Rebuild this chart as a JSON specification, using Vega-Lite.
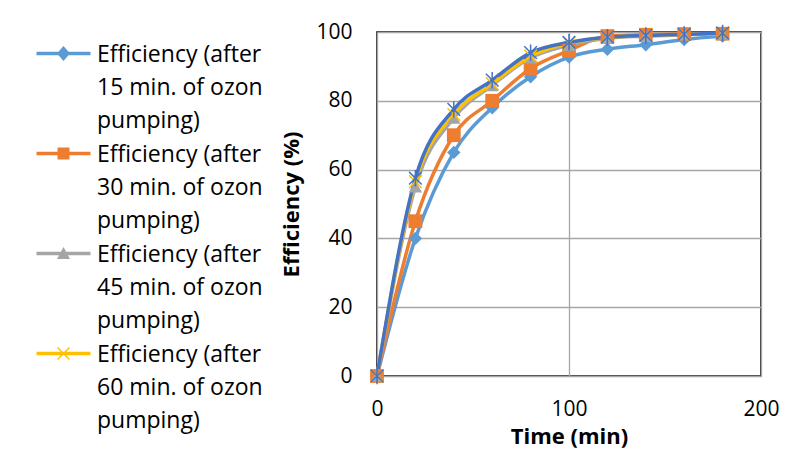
{
  "$schema": "https://vega.github.io/schema/vega-lite/v6.json",
  "width": 384,
  "height": 344,
  "autosize": {"type": "none"},
  "padding": {"left": 377, "top": 32, "right": 25, "bottom": 73},
  "background": "white",
  "config": {
    "font": "Open Sans",
    "view": {"stroke": "#000000", "strokeWidth": 1.5},
    "axis": {
      "labelFont": "Open Sans",
      "labelFontSize": 21,
      "labelColor": "#000000",
      "labelFlush": false,
      "titleFont": "Open Sans",
      "titleFontSize": 22,
      "titleFontWeight": "bold",
      "titleColor": "#000000",
      "domain": false,
      "ticks": false,
      "gridColor": "#a6a6a6",
      "gridWidth": 1.3,
      "gridOpacity": 1
    }
  },
  "data": {
    "values": [
      {"s": "Efficiency (after 15 min. of ozon pumping)", "t": 0, "e": 0},
      {"s": "Efficiency (after 15 min. of ozon pumping)", "t": 20, "e": 40},
      {"s": "Efficiency (after 15 min. of ozon pumping)", "t": 40, "e": 65},
      {"s": "Efficiency (after 15 min. of ozon pumping)", "t": 60, "e": 78},
      {"s": "Efficiency (after 15 min. of ozon pumping)", "t": 80, "e": 87},
      {"s": "Efficiency (after 15 min. of ozon pumping)", "t": 100, "e": 92.7},
      {"s": "Efficiency (after 15 min. of ozon pumping)", "t": 120, "e": 95},
      {"s": "Efficiency (after 15 min. of ozon pumping)", "t": 140, "e": 96.3},
      {"s": "Efficiency (after 15 min. of ozon pumping)", "t": 160, "e": 97.8},
      {"s": "Efficiency (after 15 min. of ozon pumping)", "t": 180, "e": 98.8},
      {"s": "Efficiency (after 30 min. of ozon pumping)", "t": 0, "e": 0},
      {"s": "Efficiency (after 30 min. of ozon pumping)", "t": 20, "e": 45},
      {"s": "Efficiency (after 30 min. of ozon pumping)", "t": 40, "e": 70},
      {"s": "Efficiency (after 30 min. of ozon pumping)", "t": 60, "e": 80},
      {"s": "Efficiency (after 30 min. of ozon pumping)", "t": 80, "e": 89.4},
      {"s": "Efficiency (after 30 min. of ozon pumping)", "t": 100, "e": 94.6},
      {"s": "Efficiency (after 30 min. of ozon pumping)", "t": 120, "e": 98.8},
      {"s": "Efficiency (after 30 min. of ozon pumping)", "t": 140, "e": 99.2},
      {"s": "Efficiency (after 30 min. of ozon pumping)", "t": 160, "e": 99.4},
      {"s": "Efficiency (after 30 min. of ozon pumping)", "t": 180, "e": 99.5},
      {"s": "Efficiency (after 45 min. of ozon pumping)", "t": 0, "e": 0},
      {"s": "Efficiency (after 45 min. of ozon pumping)", "t": 20, "e": 55},
      {"s": "Efficiency (after 45 min. of ozon pumping)", "t": 40, "e": 75},
      {"s": "Efficiency (after 45 min. of ozon pumping)", "t": 60, "e": 84.5},
      {"s": "Efficiency (after 45 min. of ozon pumping)", "t": 80, "e": 92.5},
      {"s": "Efficiency (after 45 min. of ozon pumping)", "t": 100, "e": 96.2},
      {"s": "Efficiency (after 45 min. of ozon pumping)", "t": 120, "e": 98.2},
      {"s": "Efficiency (after 45 min. of ozon pumping)", "t": 140, "e": 98.8},
      {"s": "Efficiency (after 45 min. of ozon pumping)", "t": 160, "e": 99.2},
      {"s": "Efficiency (after 45 min. of ozon pumping)", "t": 180, "e": 99.5},
      {"s": "Efficiency (after 60 min. of ozon pumping)", "t": 0, "e": 0},
      {"s": "Efficiency (after 60 min. of ozon pumping)", "t": 20, "e": 56.5},
      {"s": "Efficiency (after 60 min. of ozon pumping)", "t": 40, "e": 76},
      {"s": "Efficiency (after 60 min. of ozon pumping)", "t": 60, "e": 85},
      {"s": "Efficiency (after 60 min. of ozon pumping)", "t": 80, "e": 93},
      {"s": "Efficiency (after 60 min. of ozon pumping)", "t": 100, "e": 96.8},
      {"s": "Efficiency (after 60 min. of ozon pumping)", "t": 120, "e": 98.4},
      {"s": "Efficiency (after 60 min. of ozon pumping)", "t": 140, "e": 99},
      {"s": "Efficiency (after 60 min. of ozon pumping)", "t": 160, "e": 99.3},
      {"s": "Efficiency (after 60 min. of ozon pumping)", "t": 180, "e": 99.6},
      {"s": "Efficiency (after 75 min. of ozon pumping)", "t": 0, "e": 0},
      {"s": "Efficiency (after 75 min. of ozon pumping)", "t": 20, "e": 57.5},
      {"s": "Efficiency (after 75 min. of ozon pumping)", "t": 40, "e": 77.5},
      {"s": "Efficiency (after 75 min. of ozon pumping)", "t": 60, "e": 86},
      {"s": "Efficiency (after 75 min. of ozon pumping)", "t": 80, "e": 94},
      {"s": "Efficiency (after 75 min. of ozon pumping)", "t": 100, "e": 97},
      {"s": "Efficiency (after 75 min. of ozon pumping)", "t": 120, "e": 98.5},
      {"s": "Efficiency (after 75 min. of ozon pumping)", "t": 140, "e": 99},
      {"s": "Efficiency (after 75 min. of ozon pumping)", "t": 160, "e": 99.3},
      {"s": "Efficiency (after 75 min. of ozon pumping)", "t": 180, "e": 99.7}
    ]
  },
  "encoding": {
    "x": {
      "field": "t",
      "type": "quantitative",
      "scale": {"domain": [0, 200], "nice": false},
      "axis": {"values": [0, 100, 200], "title": "Time (min)", "labelPadding": 22, "titlePadding": 7}
    },
    "y": {
      "field": "e",
      "type": "quantitative",
      "scale": {"domain": [0, 100], "nice": false},
      "axis": {"values": [0, 20, 40, 60, 80, 100], "title": "Efficiency (%)", "labelPadding": 25, "titlePadding": 12}
    },
    "color": {
      "field": "s",
      "type": "nominal",
      "scale": {
        "domain": [
          "Efficiency (after 15 min. of ozon pumping)",
          "Efficiency (after 30 min. of ozon pumping)",
          "Efficiency (after 45 min. of ozon pumping)",
          "Efficiency (after 60 min. of ozon pumping)",
          "Efficiency (after 75 min. of ozon pumping)"
        ],
        "range": ["#5B9BD5", "#ED7D31", "#A5A5A5", "#FFC000", "#4472C4"]
      },
      "legend": {
        "orient": "none",
        "legendX": -325,
        "legendY": 10,
        "title": null,
        "padding": 0,
        "values": [
          "Efficiency (after 15 min. of ozon pumping)",
          "Efficiency (after 30 min. of ozon pumping)",
          "Efficiency (after 45 min. of ozon pumping)",
          "Efficiency (after 60 min. of ozon pumping)"
        ],
        "labelExpr": "[substring(datum.label, 0, 17), substring(datum.label, 18, 33), substring(datum.label, 34)]",
        "labelFont": "Open Sans",
        "labelFontSize": 23,
        "labelColor": "#000000",
        "labelLimit": 400,
        "labelBaseline": "alphabetic",
        "labelOffset": 22,
        "symbolSize": 400,
        "symbolType": "M-2.7,-0.17H2.7V0.17H-2.7Z",
        "rowPadding": 9,
        "encode": {
          "symbols": {
            "update": {
              "shape": {"signal": "datum.value == 'Efficiency (after 15 min. of ozon pumping)' ? 'M-2.7,-0.17H2.7V0.17H-2.7Z M0,-0.75L0.65,0L0,0.75L-0.65,0Z' : datum.value == 'Efficiency (after 30 min. of ozon pumping)' ? 'M-2.7,-0.17H2.7V0.17H-2.7Z M-0.6,-0.6H0.6V0.6H-0.6Z' : datum.value == 'Efficiency (after 45 min. of ozon pumping)' ? 'M-2.7,-0.17H2.7V0.17H-2.7Z M0,-0.65L0.65,0.55L-0.65,0.55Z' : 'M-2.7,-0.17H2.7V0.17H-2.7Z M-0.65,-0.55L-0.55,-0.65L0.65,0.55L0.55,0.65Z M-0.65,0.55L0.55,-0.65L0.65,-0.55L-0.55,0.65Z'"},
              "fill": {"signal": "scale('color', datum.value)"},
              "fillOpacity": {"value": 1},
              "opacity": {"value": 1},
              "strokeWidth": {"value": 0},
              "size": {"value": 400}
            }
          },
          "labels": {
            "update": {
              "lineHeight": {"value": 33},
              "dy": {"value": 8}
            }
          }
        }
      }
    }
  },
  "layer": [
    {
      "mark": {"type": "line", "interpolate": "monotone", "strokeWidth": 3.5}
    },
    {
      "transform": [{"filter": {"field": "s", "equal": "Efficiency (after 15 min. of ozon pumping)"}}],
      "mark": {"type": "point", "filled": true, "opacity": 1, "size": 180, "shape": "diamond"}
    },
    {
      "transform": [{"filter": {"field": "s", "equal": "Efficiency (after 30 min. of ozon pumping)"}}],
      "mark": {"type": "point", "filled": true, "opacity": 1, "size": 190, "shape": "square"}
    },
    {
      "transform": [{"filter": {"field": "s", "equal": "Efficiency (after 45 min. of ozon pumping)"}}],
      "mark": {"type": "point", "filled": true, "opacity": 1, "size": 180, "shape": "triangle-up"}
    },
    {
      "transform": [{"filter": {"field": "s", "equal": "Efficiency (after 60 min. of ozon pumping)"}}],
      "mark": {"type": "point", "filled": false, "opacity": 1, "size": 160, "strokeWidth": 1.5, "shape": "M-1,-1L1,1M-1,1L1,-1"}
    },
    {
      "transform": [{"filter": {"field": "s", "equal": "Efficiency (after 75 min. of ozon pumping)"}}],
      "mark": {"type": "point", "filled": false, "opacity": 1, "size": 160, "strokeWidth": 1.5, "shape": "M-1,-1L1,1M-1,1L1,-1M0,-1.3L0,1.3"}
    }
  ]
}
